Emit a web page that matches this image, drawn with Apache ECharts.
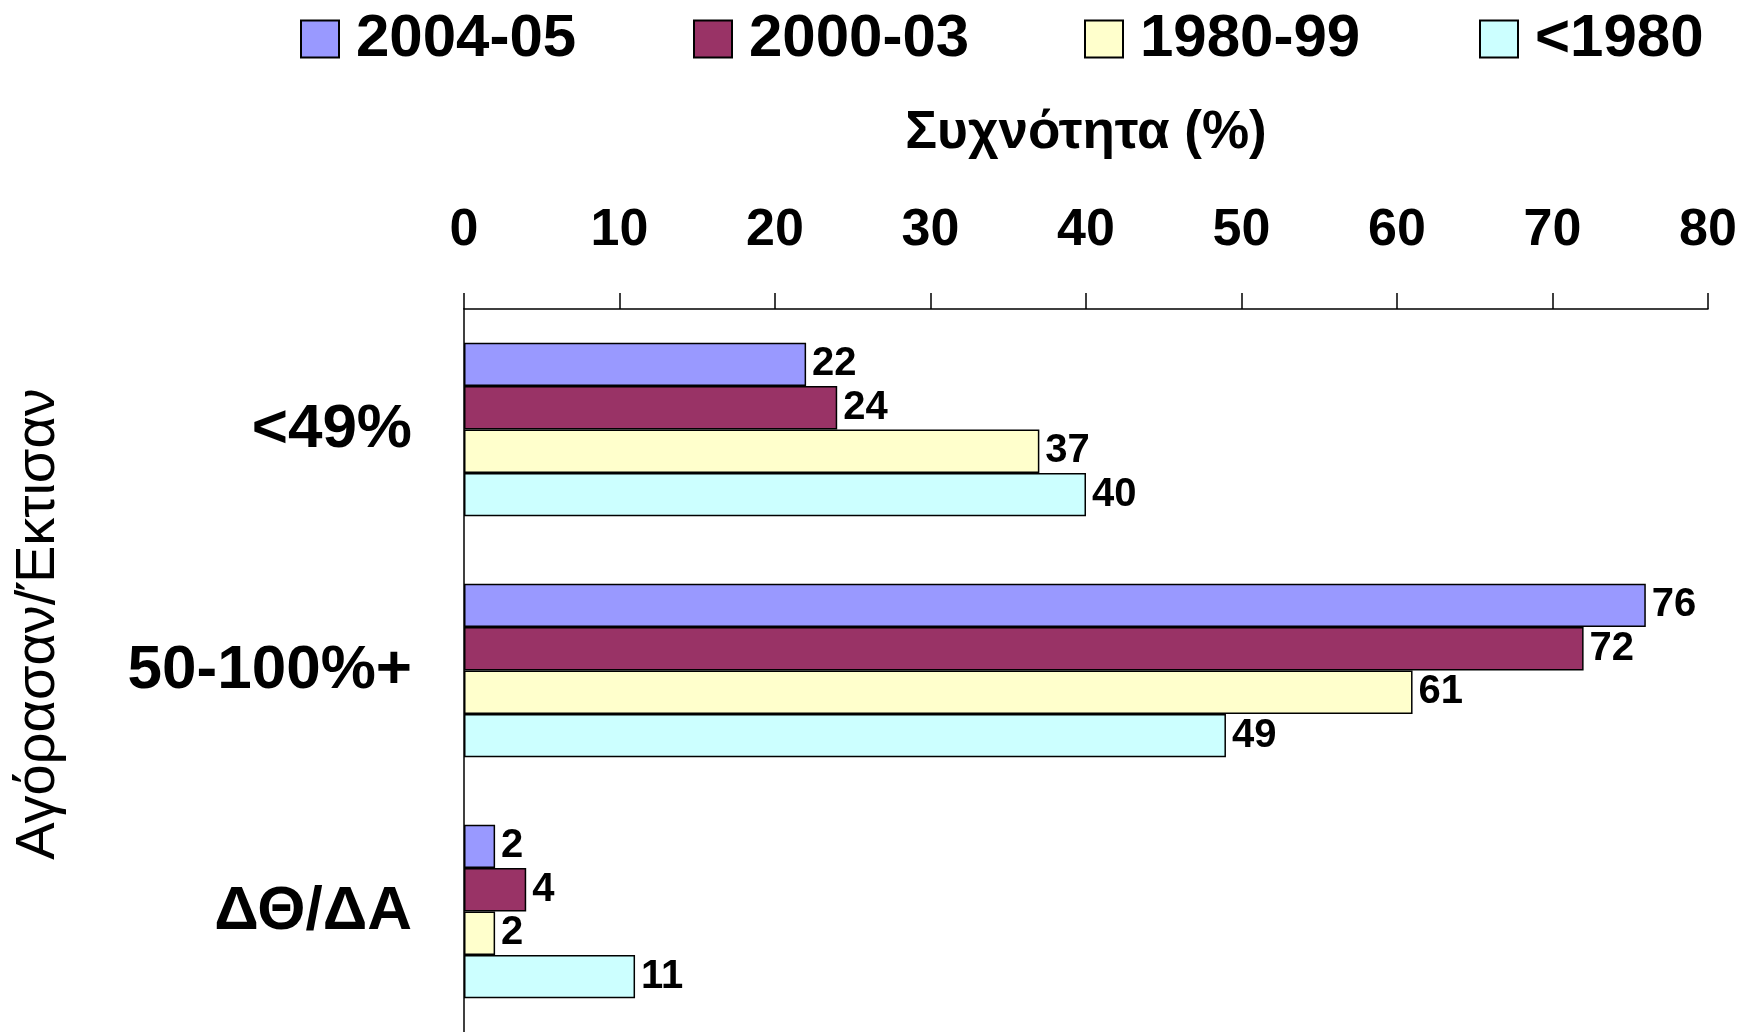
<!DOCTYPE html>
<html><head><meta charset="utf-8">
<script src="https://cdn.jsdelivr.net/npm/echarts@6/dist/echarts.min.js"></script>
<style>html,body{margin:0;padding:0;background:#fff}#c{width:1744px;height:1032px}</style>
</head><body><div id="c"></div>
<script>
const categories = ['<49%', '50-100%+', 'ΔΘ/ΔΑ'];
const seriesNames = ['2004-05', '2000-03', '1980-99', '<1980'];
const s2004_05 = [22, 76, 2];
const s2000_03 = [24, 72, 4];
const s1980_99 = [37, 61, 2];
const sBefore1980 = [40, 49, 11];
const xTicks = [0, 80, 10];
const colors = ['#9999FF', '#993366', '#FFFFCC', '#CCFFFF'];
const values = [s2004_05, s2000_03, s1980_99, sBefore1980];
const FF = '"Liberation Sans", Arial, sans-serif';
const chart = echarts.init(document.getElementById('c'));
const legendLefts = [300, 693, 1084, 1479];
chart.setOption({
  backgroundColor: '#fff',
  animation: false,
  textStyle: {fontFamily: FF},
  legend: seriesNames.map((n, i) => ({
    data: [n], left: legendLefts[i], top: 9, padding: 0, itemWidth: 38, itemHeight: 37,
    icon: 'rect', itemGap: 0,
    textStyle: {fontSize: 60, fontWeight: 'bold', color: '#000', fontFamily: FF, padding: [0, 0, 0, 12]}
  })),
  grid: {left: 464, right: 36, top: 309, height: 729, containLabel: false},
  xAxis: {
    type: 'value', position: 'top', min: xTicks[0], max: xTicks[1], interval: xTicks[2],
    axisLine: {show: true, lineStyle: {color: '#000', width: 1.5}},
    axisTick: {show: true, inside: false, length: 16, lineStyle: {color: '#000', width: 1.5}},
    axisLabel: {fontSize: 52, fontWeight: 'bold', color: '#000', margin: 52, fontFamily: FF},
    splitLine: {show: false}
  },
  yAxis: {
    type: 'category', data: categories, inverse: true,
    axisLine: {show: true, lineStyle: {color: '#000', width: 1.5}},
    axisTick: {show: false},
    axisLabel: {fontSize: 62, fontWeight: 'bold', color: '#000', margin: 52, fontFamily: FF, padding: [10, 0, 0, 0]}
  },
  graphic: [
    {type: 'text', x: 1086, y: 133, style: {text: 'Συχνότητα (%)', font: 'bold 53px "Liberation Sans", Arial, sans-serif', fill: '#000', align: 'center', verticalAlign: 'middle'}},
    {type: 'text', x: 39, y: 624, rotation: Math.PI / 2, style: {text: 'Αγόρασαν/Έκτισαν', font: '56px "Liberation Sans", Arial, sans-serif', fill: '#000', align: 'center', verticalAlign: 'middle'}}
  ],
  series: seriesNames.map((n, i) => ({
    name: n, type: 'bar', data: values[i],
    barGap: '0%', barCategoryGap: '28%',
    itemStyle: {color: colors[i], borderColor: '#000', borderWidth: 1.5},
    label: {show: true, position: 'right', distance: 6, fontSize: 40, fontWeight: 'bold', color: '#000', fontFamily: FF}
  }))
});
</script></body></html>
